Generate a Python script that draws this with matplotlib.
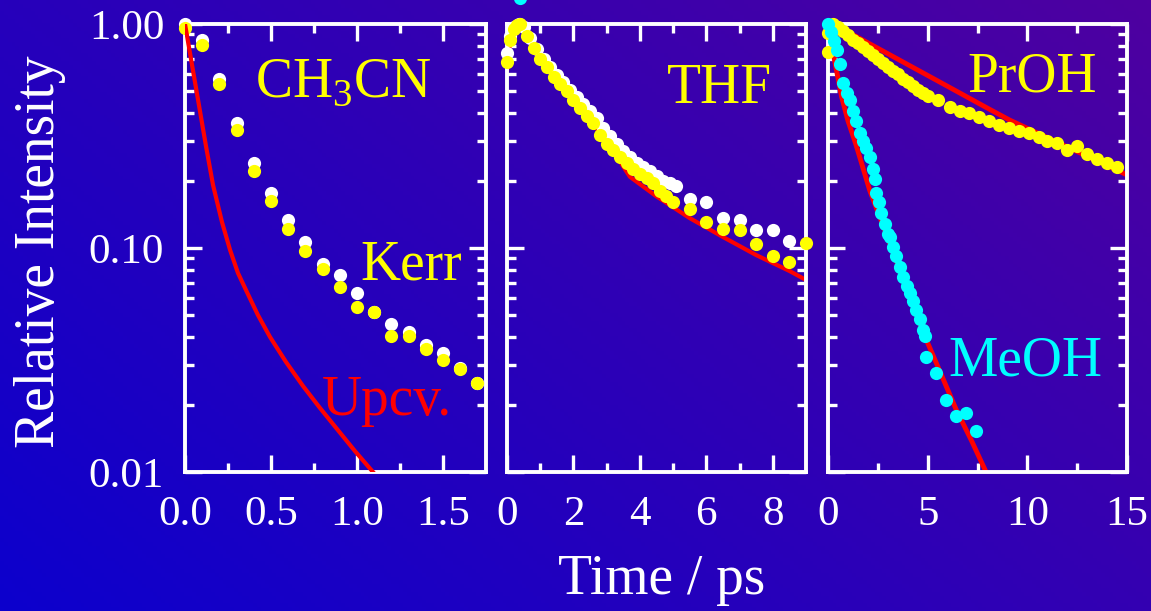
import numpy as np
import matplotlib
matplotlib.use("Agg")
import matplotlib.pyplot as plt
from matplotlib.ticker import FixedLocator, LogLocator, NullFormatter

plt.rcParams['font.family'] = ['Liberation Serif', 'DejaVu Serif']
plt.rcParams['mathtext.fontset'] = 'custom'
plt.rcParams['mathtext.rm'] = 'Liberation Serif'

# --- CH3CN panel (Kerr vs upconversion) ---
ch3cn_t = [0.0, 0.1, 0.2, 0.3, 0.4, 0.5, 0.6, 0.7, 0.8, 0.9, 1.0, 1.1, 1.2, 1.3, 1.4, 1.5, 1.6, 1.7]
ch3cn_white = [1.0, 0.85, 0.57, 0.36, 0.24, 0.176, 0.133, 0.106, 0.085, 0.076, 0.063, 0.052,
               0.046, 0.042, 0.037, 0.034, 0.029, 0.025]
ch3cn_yellow = [1.0, 0.84, 0.56, 0.35, 0.23, 0.169, 0.127, 0.101, 0.084, 0.070, 0.057, 0.054,
                0.042, 0.042, 0.037, 0.033, 0.030, 0.026]
ch3cn_fit_t = [0.0, 0.041, 0.081, 0.122, 0.163, 0.215, 0.262, 0.308, 0.36, 0.424, 0.494,
               0.587, 0.686, 0.785, 0.884, 0.988, 1.093, 1.134]
ch3cn_fit = [1.0, 0.656, 0.435, 0.285, 0.191, 0.1306, 0.098, 0.0773, 0.0636, 0.0502, 0.0401,
             0.031, 0.0242, 0.0193, 0.01555, 0.0124, 0.0100, 0.0092]

# --- THF panel ---
thf_t = [0.0, 0.1, 0.2, 0.3, 0.4, 0.6, 0.8, 1.0, 1.2, 1.4, 1.6, 1.8, 2.0, 2.2, 2.4, 2.6, 2.8,
         3.0, 3.2, 3.4, 3.6, 3.8, 4.0, 4.2, 4.4, 4.6, 4.8, 5.0,
         5.5, 6.0, 6.5, 7.0, 7.5, 8.0, 8.5, 9.0]
thf_yellow = [0.68, 0.85, 0.95, 0.99, 1.0, 0.88, 0.78, 0.70, 0.64, 0.58, 0.54, 0.50, 0.46, 0.42,
              0.39, 0.36, 0.32, 0.29, 0.275, 0.255, 0.24, 0.225, 0.215, 0.205, 0.195, 0.18, 0.17,
              0.16, 0.150, 0.130, 0.121, 0.120, 0.104, 0.092, 0.087, 0.105]
thf_white_t = [0.0, 0.1, 0.2, 0.35, 0.5, 0.7, 0.9, 1.1, 1.3, 1.5, 1.7, 1.9, 2.1, 2.3, 2.5, 2.7,
               2.9, 3.1, 3.3, 3.5, 3.7, 3.9, 4.1, 4.3, 4.5, 4.7, 4.9, 5.1,
               5.5, 6.0, 6.5, 7.0, 7.5, 8.0, 8.5]
thf_white = [0.74, 0.88, 0.97, 1.0, 0.97, 0.87, 0.77, 0.70, 0.64, 0.59, 0.55, 0.51, 0.47, 0.44,
             0.41, 0.38, 0.345, 0.315, 0.29, 0.27, 0.255, 0.24, 0.23, 0.22, 0.21, 0.20, 0.195,
             0.19, 0.166, 0.160, 0.136, 0.133, 0.120, 0.120, 0.107]
thf_fit_t = [0.0, 0.1, 0.2, 0.4, 1.0, 2.0, 3.0, 3.7, 4.5, 5.5, 6.5, 7.5, 8.5, 9.0]
thf_fit = [0.62, 0.85, 0.95, 1.0, 0.70, 0.46, 0.30, 0.208, 0.170, 0.136, 0.112, 0.093, 0.079, 0.072]
stray_t = [0.4]
stray_v = [1.31]

# --- PrOH / MeOH panel ---
proh_t = [0.0, 0.0, 0.25, 0.5, 0.75, 1.0, 1.25, 1.5, 1.75, 2.0, 2.25, 2.5, 2.75, 3.0, 3.25, 3.5,
          3.75, 4.0, 4.25, 4.5, 4.75, 5.0, 5.5, 6.1, 6.6, 7.07, 7.57, 8.07, 8.57, 9.07, 9.57,
          10.07, 10.57, 11.0, 11.5, 12.0, 12.5, 13.0, 13.5, 14.0, 14.5]
proh = [0.75, 0.91, 1.0, 0.97, 0.93, 0.89, 0.85, 0.82, 0.79, 0.76, 0.73, 0.70, 0.67, 0.645, 0.62,
        0.60, 0.57, 0.55, 0.53, 0.51, 0.49, 0.475, 0.46, 0.425, 0.41, 0.40, 0.385, 0.37, 0.354,
        0.342, 0.333, 0.325, 0.314, 0.30, 0.293, 0.274, 0.284, 0.263, 0.249, 0.239, 0.229]
proh_fit_t = [0.0, 0.27, 2.0, 4.0, 6.0, 8.0, 9.1, 11.0, 13.0, 15.0]
proh_fit = [0.95, 1.0, 0.824, 0.659, 0.527, 0.421, 0.373, 0.311, 0.257, 0.212]

meoh_t = [0.0, 0.15, 0.3, 0.45, 0.6, 0.77, 0.95, 1.1, 1.25, 1.4, 1.6, 1.75, 1.9, 2.1, 2.25, 2.35,
          2.43, 2.55, 2.68, 2.85, 3.0, 3.1, 3.25, 3.43, 3.6, 3.77, 3.95, 4.1, 4.25, 4.43, 4.6,
          4.75, 4.85, 4.93, 5.43, 5.93, 6.43, 6.93, 7.43]
meoh = [1.0, 0.92, 0.84, 0.765, 0.66, 0.543, 0.49, 0.458, 0.41, 0.37, 0.325, 0.30, 0.28, 0.255,
        0.225, 0.204, 0.176, 0.16, 0.143, 0.128, 0.116, 0.112, 0.101, 0.092, 0.082, 0.074, 0.068,
        0.063, 0.058, 0.053, 0.048, 0.043, 0.0405, 0.0327, 0.0278, 0.021, 0.0178, 0.0183, 0.0152]
meoh_fit_t = [0.0, 0.3, 0.68, 1.0, 1.4, 2.1, 3.0, 4.0, 4.93, 5.7, 6.43, 7.2, 7.93, 8.1]
meoh_fit = [1.0, 0.71, 0.474, 0.37, 0.29, 0.18, 0.111, 0.064, 0.039, 0.027, 0.019, 0.0138, 0.0100, 0.0092]

W, H = 1151, 611
fig = plt.figure(figsize=(W / 100, H / 100), dpi=100)

# gradient background (blue bottom-left -> purple top-right)
bg = fig.add_axes([0, 0, 1, 1], zorder=-10)
gx, gy = np.meshgrid(np.linspace(0, 1, 300), np.linspace(0, 1, 160))
g = np.clip(0.6 * gx + 0.4 * gy, 0, 1)
c0 = np.array([12, 0, 205]) / 255
c1 = np.array([78, 0, 160]) / 255
img = c0 + g[..., None] * (c1 - c0)
bg.imshow(img, origin='lower', aspect='auto', extent=[0, 1, 0, 1])
bg.axis('off')

yellow = '#ffff00'
cyan = '#00ffff'
red = '#ff0000'
ms = 9.5

bottom = 1 - 472 / H
height = (472 - 24) / H
lefts = [185, 507, 828]
widths = [301, 299, 299]
axes = []
for l, w in zip(lefts, widths):
    ax = fig.add_axes([l / W, bottom, w / W, height])
    ax.set_facecolor('none')
    ax.set_yscale('log')
    ax.set_ylim(0.01, 1.0)
    for s in ax.spines.values():
        s.set_color('white')
        s.set_linewidth(2.8)
    ax.yaxis.set_major_locator(FixedLocator([0.01, 0.1, 1.0]))
    ax.yaxis.set_minor_locator(LogLocator(base=10, subs=np.arange(2, 10)))
    ax.yaxis.set_minor_formatter(NullFormatter())
    ax.tick_params(which='both', direction='in', colors='white', top=True, right=True,
                   labelsize=31, width=2.4)
    ax.tick_params(which='major', length=12)
    ax.tick_params(which='minor', length=6.5)
    ax.tick_params(axis='x', pad=17)
    ax.tick_params(axis='y', pad=15)
    axes.append(ax)

ax1, ax2, ax3 = axes

# panel 1
ax1.set_xlim(0, 1.75)
ax1.set_xticks([0.0, 0.5, 1.0, 1.5])
ax1.set_xticklabels(['0.0', '0.5', '1.0', '1.5'])
ax1.set_xticks([0.25, 0.75, 1.25], minor=True)
ax1.set_yticklabels(['0.01', '0.10', '1.00'])
ax1.plot(ch3cn_t, ch3cn_white, 'o', color='white', ms=ms, mew=0, clip_on=False, zorder=3)
ax1.plot(ch3cn_t, [v * 0.96 for v in ch3cn_yellow], 'o', color=yellow, ms=ms, mew=0,
         clip_on=False, zorder=4)
ax1.plot(ch3cn_fit_t, ch3cn_fit, '-', color=red, lw=3, zorder=5, solid_joinstyle='round')

# panel 2
ax2.set_xlim(0, 9)
ax2.set_xticks([0, 2, 4, 6, 8])
ax2.set_xticks([1, 3, 5, 7], minor=True)
ax2.set_yticklabels([])
ax2.plot(thf_fit_t, thf_fit, '-', color=red, lw=3, zorder=2, solid_joinstyle='round')
ax2.plot(thf_white_t, thf_white, 'o', color='white', ms=ms, mew=0, clip_on=False, zorder=3)
ax2.plot(thf_t, thf_yellow, 'o', color=yellow, ms=ms, mew=0, clip_on=False, zorder=4)
ax2.plot(stray_t, stray_v, 'o', color=cyan, ms=ms, mew=0, clip_on=False, zorder=4)

# panel 3
ax3.set_xlim(0, 15)
ax3.set_xticks([0, 5, 10, 15])
ax3.set_xticks([2.5, 7.5, 12.5], minor=True)
ax3.set_yticklabels([])
ax3.plot(proh_fit_t, proh_fit, '-', color=red, lw=3.5, zorder=2, solid_joinstyle='round')
ax3.plot(meoh_fit_t, meoh_fit, '-', color=red, lw=3.5, zorder=2, solid_joinstyle='round')
ax3.plot(proh_t, proh, 'o', color=yellow, ms=ms, mew=0, clip_on=False, zorder=3)
ax3.plot(meoh_t, meoh, 'o', color=cyan, ms=ms, mew=0, clip_on=False, zorder=4)

# annotations (figure coords from pixel positions)
def label(x, y, s, c):
    fig.text(x / W, 1 - y / H, s, color=c, fontsize=40, ha='left', va='baseline')

label(255, 97, r'CH$_{\mathrm{3}}$CN', yellow)
label(360, 280, 'Kerr', yellow)
label(322, 415, 'Upcv.', red)
label(667, 103, 'THF', yellow)
label(967, 91, 'PrOH', yellow)
label(948, 376, 'MeOH', cyan)

fig.text(40 / W, 1 - 252 / H, 'Relative Intensity', color='white', fontsize=40,
         rotation=90, ha='center', va='center')
fig.text(662 / W, 1 - 580 / H, 'Time / ps', color='white', fontsize=40,
         ha='center', va='center')

fig.savefig('out.png', dpi=100)
